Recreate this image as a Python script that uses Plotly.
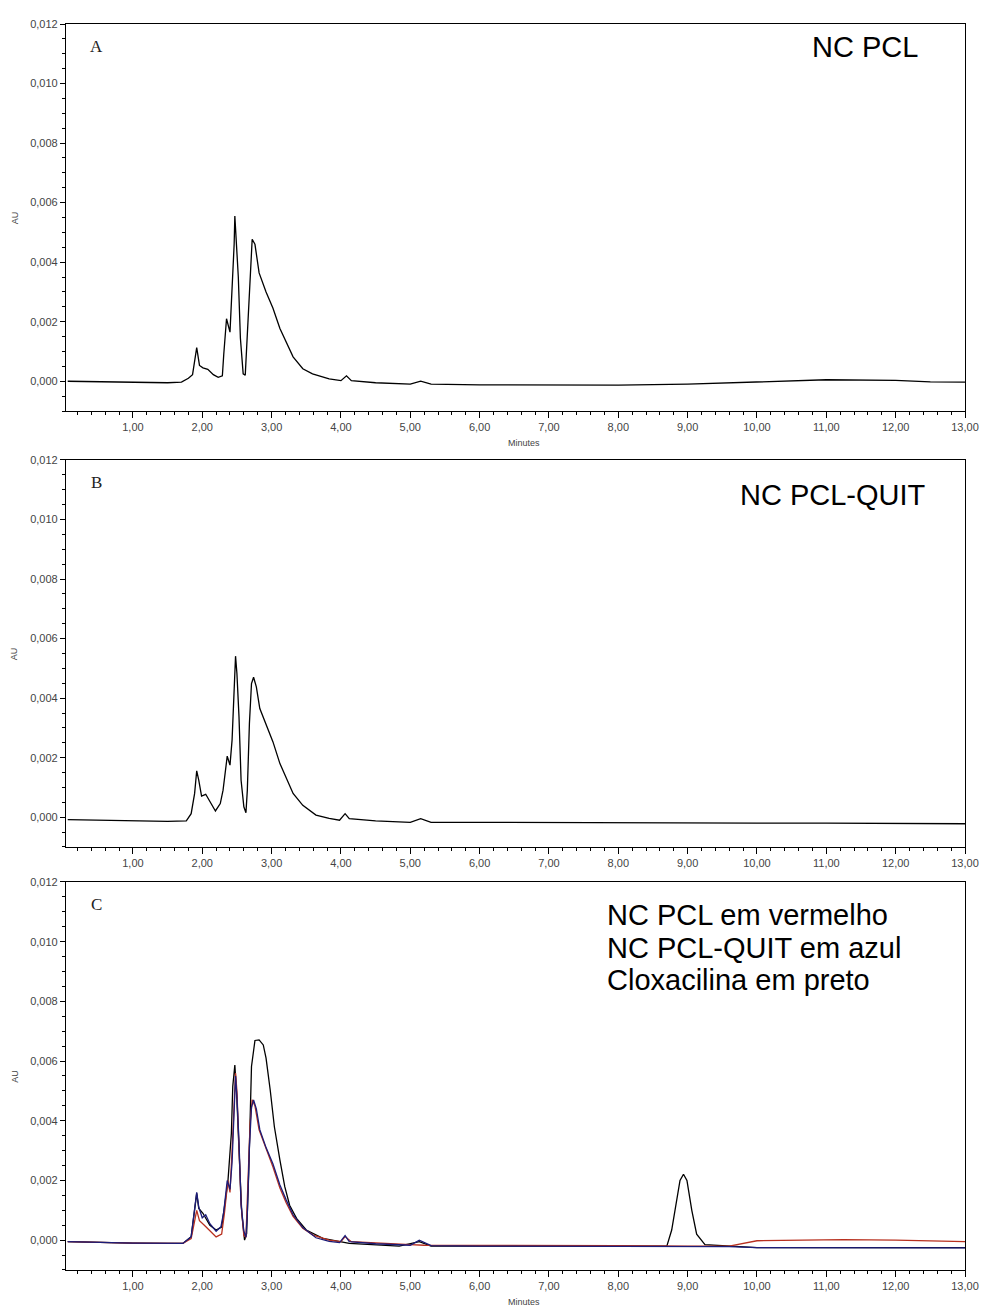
import plotly.graph_objects as go

# ---------------- data (minutes, AU x 1e-3) ----------------
a_time = [0.06, 0.5, 1.0, 1.5, 1.70, 1.80, 1.86, 1.92, 1.96, 2.01, 2.08, 2.16, 2.23, 2.29, 2.31, 2.35,
          2.40, 2.43, 2.46, 2.47, 2.49, 2.52, 2.55, 2.59, 2.62, 2.66, 2.69, 2.72, 2.76, 2.82, 2.92,
          3.02, 3.12, 3.21, 3.31, 3.45, 3.59, 3.83, 4.0, 4.08, 4.15, 4.5, 5.0, 5.15, 5.3, 6.0, 7.0,
          8.0, 9.0, 9.7, 10.1, 11.0, 12.0, 12.5, 13.0]
a_au = [0.0, -0.02, -0.05, -0.05, -0.03, 0.1, 0.22, 1.13, 0.53, 0.45, 0.40, 0.22, 0.13, 0.18, 0.9, 2.1,
        1.65, 2.9, 4.6, 5.55, 4.7, 3.5, 1.45, 0.25, 0.2, 2.1, 3.8, 4.77, 4.6, 3.64, 3.0,
        2.45, 1.77, 1.32, 0.82, 0.42, 0.25, 0.08, 0.02, 0.18, 0.02, -0.05, -0.1, 0.0, -0.1, -0.12, -0.13,
        -0.13, -0.1, -0.05, 0.0, 0.05, 0.03, -0.02, -0.03]

b_time = [0.06, 0.5, 1.0, 1.5, 1.77, 1.84, 1.89, 1.92, 1.95, 1.99, 2.05, 2.11, 2.19, 2.26, 2.30, 2.36,
          2.40, 2.43, 2.46, 2.48, 2.50, 2.53, 2.56, 2.60, 2.63, 2.65, 2.68, 2.71, 2.74, 2.78, 2.83,
          2.92, 3.02, 3.12, 3.21, 3.31, 3.45, 3.64, 3.83, 3.98, 4.06, 4.12, 4.5, 5.0, 5.15, 5.3, 6.0,
          7.0, 8.0, 9.0, 10.0, 11.0, 12.0, 13.0]
b_au = [-0.08, -0.1, -0.12, -0.14, -0.12, 0.12, 0.8, 1.56, 1.24, 0.71, 0.77, 0.51, 0.21, 0.46, 0.91, 2.05,
        1.75, 2.59, 4.27, 5.41, 4.83, 3.37, 1.24, 0.35, 0.15, 0.91, 3.15, 4.49, 4.70, 4.38, 3.65,
        3.09, 2.53, 1.80, 1.35, 0.80, 0.40, 0.07, -0.04, -0.1, 0.12, -0.05, -0.12, -0.17, -0.05, -0.17, -0.17,
        -0.18, -0.2, -0.2, -0.2, -0.2, -0.22, -0.22]

clox_time = [0.06, 0.5, 1.0, 1.5, 1.72, 1.84, 1.92, 1.95, 2.01, 2.11, 2.20, 2.28, 2.32, 2.37, 2.42, 2.44,
             2.47, 2.50, 2.53, 2.57, 2.61, 2.64, 2.67, 2.71, 2.76, 2.82, 2.88, 2.92, 2.98, 3.04, 3.12,
             3.19, 3.26, 3.36, 3.50, 3.74, 4.12, 4.84, 5.13, 5.3, 6.0, 7.0, 8.0, 8.70, 8.77, 8.83,
             8.89, 8.94, 8.99, 9.06, 9.13, 9.25, 9.6, 10.0, 11.0, 12.0, 13.0]
clox_au = [-0.05, -0.08, -0.1, -0.11, -0.11, 0.11, 1.57, 1.06, 0.90, 0.50, 0.34, 0.44, 1.12, 1.96, 3.58, 5.15,
           5.87, 4.70, 3.02, 0.90, 0.0, 0.22, 2.24, 5.82, 6.69, 6.71, 6.54, 6.1, 5.03, 3.8, 2.68,
           1.79, 1.17, 0.73, 0.34, 0.06, -0.11, -0.2, -0.05, -0.2, -0.2, -0.2, -0.2, -0.2, 0.34, 1.12,
           2.0, 2.21, 2.0, 1.0, 0.2, -0.15, -0.2, -0.25, -0.25, -0.25, -0.25]

red_time = [0.06, 1.0, 1.72, 1.84, 1.92, 1.96, 2.03, 2.11, 2.20, 2.28, 2.32, 2.37, 2.40, 2.43, 2.46, 2.48,
            2.50, 2.53, 2.56, 2.60, 2.63, 2.66, 2.69, 2.72, 2.76, 2.82, 2.92, 3.02, 3.12, 3.21, 3.31,
            3.45, 3.60, 3.83, 4.0, 4.06, 4.15, 4.5, 5.0, 5.2, 6.0, 7.0, 8.0, 9.0, 9.6, 10.0, 11.0,
            11.25, 12.0, 13.0]
red_au = [-0.05, -0.1, -0.11, 0.05, 1.0, 0.65, 0.5, 0.3, 0.11, 0.2, 0.9, 2.0, 1.6, 3.0, 4.8, 5.6,
          5.0, 3.2, 1.2, 0.15, 0.1, 2.0, 3.9, 4.7, 4.5, 3.7, 3.1, 2.45, 1.75, 1.25, 0.8,
          0.4, 0.17, 0.0, -0.05, 0.12, -0.05, -0.1, -0.15, -0.17, -0.17, -0.18, -0.18, -0.2, -0.2, -0.02, 0.0,
          0.02, 0.0, -0.05]

blue_time = [0.06, 1.0, 1.72, 1.84, 1.92, 1.95, 2.0, 2.05, 2.11, 2.20, 2.27, 2.31, 2.36, 2.40, 2.43, 2.46,
             2.48, 2.50, 2.53, 2.56, 2.60, 2.63, 2.65, 2.68, 2.71, 2.74, 2.78, 2.83, 2.92, 3.02, 3.12,
             3.21, 3.31, 3.45, 3.64, 3.83, 3.98, 4.06, 4.12, 4.5, 5.0, 5.13, 5.3, 6.0, 7.0, 8.0, 9.0,
             9.6, 10.0, 11.0, 12.0, 13.0]
blue_au = [-0.05, -0.1, -0.11, 0.11, 1.6, 1.1, 0.75, 0.85, 0.55, 0.3, 0.45, 0.95, 2.0, 1.7, 2.6, 4.3,
           5.5, 4.8, 3.3, 1.2, 0.3, 0.1, 0.9, 3.1, 4.45, 4.7, 4.4, 3.7, 3.1, 2.55, 1.85,
           1.35, 0.85, 0.42, 0.08, -0.04, -0.08, 0.15, -0.05, -0.12, -0.17, 0.0, -0.18, -0.2, -0.2, -0.2, -0.2,
           -0.22, -0.25, -0.25, -0.26, -0.26]

x_ticks = list(range(1, 14))
y_ticks = [0.0, 0.002, 0.004, 0.006, 0.008, 0.010, 0.012]

# ---------------- figure ----------------
def au(vals):
    return [v / 1000.0 for v in vals]

fig = go.Figure()
fig.add_trace(go.Scatter(x=a_time, y=au(a_au), mode="lines", line=dict(color="black", width=1.3),
                         xaxis="x", yaxis="y", name="NC PCL"))
fig.add_trace(go.Scatter(x=b_time, y=au(b_au), mode="lines", line=dict(color="black", width=1.3),
                         xaxis="x2", yaxis="y2", name="NC PCL-QUIT"))
fig.add_trace(go.Scatter(x=clox_time, y=au(clox_au), mode="lines", line=dict(color="black", width=1.3),
                         xaxis="x3", yaxis="y3", name="Cloxacilina"))
fig.add_trace(go.Scatter(x=red_time, y=au(red_au), mode="lines", line=dict(color="#b8301f", width=1.3),
                         xaxis="x3", yaxis="y3", name="NC PCL"))
fig.add_trace(go.Scatter(x=blue_time, y=au(blue_au), mode="lines", line=dict(color="#1c1c78", width=1.3),
                         xaxis="x3", yaxis="y3", name="NC PCL-QUIT"))

tick_font = dict(family="Liberation Sans, Arial, sans-serif", size=11, color="#444444")
domains = [(0.6894, 1.0), (0.3395, 0.6501), (0.0, 0.3114)]

layout = dict(
    width=982, height=1309,
    margin=dict(l=66, r=17, t=24, b=39, autoexpand=False),
    paper_bgcolor="white", plot_bgcolor="white",
    showlegend=False, separators=",.",
)
for i, (d0, d1) in enumerate(domains):
    sfx = "" if i == 0 else str(i + 1)
    layout["xaxis" + sfx] = dict(
        domain=[0, 1], anchor="y" + sfx, range=[0.035, 13.0], automargin=False,
        tickvals=x_ticks, tickformat=".2f", ticks="outside", ticklen=6, tickwidth=1,
        tickcolor="black", showline=True, linecolor="black", linewidth=1.2, mirror=True,
        showgrid=False, zeroline=False, tickfont=tick_font,
        minor=dict(dtick=0.2, tick0=0, ticks="outside", ticklen=3, tickcolor="black"),
    )
    layout["yaxis" + sfx] = dict(
        domain=[d0, d1], anchor="x" + sfx, range=[-0.001, 0.012], automargin=False,
        tickvals=y_ticks, tickformat=".3f", ticks="outside", ticklen=5, tickwidth=1,
        tickcolor="black", showline=True, linecolor="black", linewidth=1.2, mirror=True,
        showgrid=False, zeroline=False, tickfont=tick_font,
        minor=dict(dtick=0.0005, tick0=0, ticks="outside", ticklen=3, tickcolor="black"),
    )
fig.update_layout(**layout)

ann = []
letter_font = dict(family="Liberation Serif, Times New Roman, serif", size=17, color="#222222")
big_font = dict(family="Liberation Sans, Arial, sans-serif", size=29, color="black")
small_font = dict(family="Liberation Sans, Arial, sans-serif", size=9, color="#444444")
for i, letter in enumerate(["A", "B", "C"]):
    sfx = "" if i == 0 else str(i + 1)
    ann.append(dict(text=letter, x=0.48, y=0.01123, xref="x" + sfx, yref="y" + sfx,
                    showarrow=False, font=letter_font, xanchor="center", yanchor="middle"))
    d0, d1 = domains[i]
    ann.append(dict(text="AU", x=-0.057, y=(d0 + d1) / 2, xref="paper", yref="paper",
                    textangle=-90, showarrow=False, font=small_font, xanchor="center", yanchor="middle"))

ann.append(dict(text="NC PCL", x=10.77, y=0.01123, xref="x", yref="y", showarrow=False,
                font=big_font, xanchor="left", yanchor="middle"))
ann.append(dict(text="NC PCL-QUIT", x=9.73, y=0.01082, xref="x2", yref="y2", showarrow=False,
                font=big_font, xanchor="left", yanchor="middle"))
for txt, yv in [("NC PCL em vermelho", 0.0109), ("NC PCL-QUIT em azul", 0.0098),
                ("Cloxacilina em preto", 0.00872)]:
    ann.append(dict(text=txt, x=7.81, y=yv, xref="x3", yref="y3", showarrow=False,
                    font=big_font, xanchor="left", yanchor="middle"))

ann.append(dict(text="Minutes", x=6.64, y=0.6637, xref="x", yref="paper", showarrow=False,
                font=small_font, xanchor="center", yanchor="middle"))
ann.append(dict(text="Minutes", x=6.64, y=-0.0257, xref="x3", yref="paper", showarrow=False,
                font=small_font, xanchor="center", yanchor="middle"))
fig.update_layout(annotations=ann)

fig.write_html("out.html")
